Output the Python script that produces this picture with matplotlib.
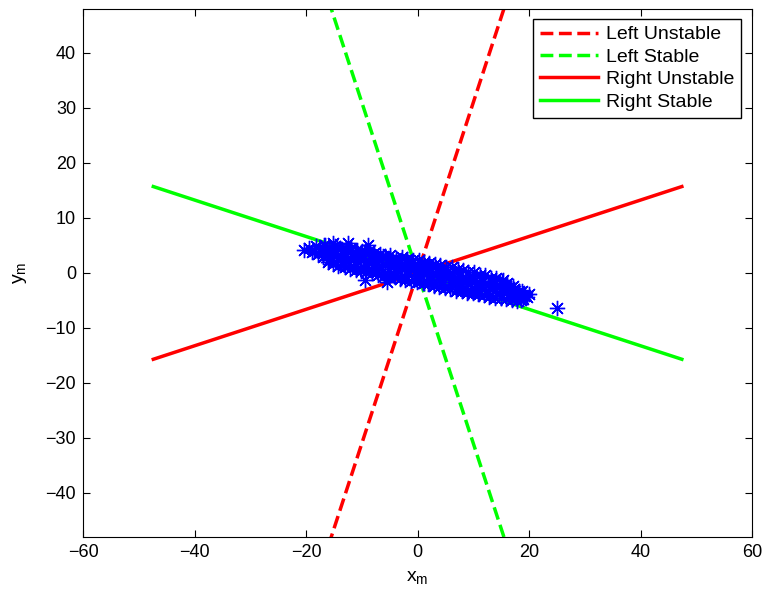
import numpy as np
import matplotlib
matplotlib.use('Agg')
import matplotlib.pyplot as plt

plt.rcParams['font.family'] = ['Liberation Sans', 'DejaVu Sans']
plt.rcParams['mathtext.fontset'] = 'custom'
plt.rcParams['mathtext.rm'] = 'Liberation Sans'

# manifold lines (end points in x_m, y_m)
line_x = [-47.4, 47.4]
left_unstable_x = [-16.0, 16.0]
left_unstable_y = [-49.6, 49.6]
left_stable_x = [-16.0, 16.0]
left_stable_y = [49.6, -49.6]
right_unstable_y = [-15.7, 15.7]
right_stable_y = [15.7, -15.7]

pts_x = [-20.3, -19.5, -19.0, -18.2, -17.8, -17.5, -17.0, -16.6, -16.3,
         -15.8, -15.5, -15.0, -14.6, -14.4, -14.0, -13.5, -13.2, -12.8, -12.4, -12.0,
         -11.6, -11.3, -11.0, -10.6, -10.2, -9.8, -9.5, -9.1, -8.7, -8.3, -8.0,
         -7.7, -7.3, -7.0, -6.6, -6.2, -5.8, -5.5, -5.1, -4.7, -4.3, -4.0,
         -3.6, -3.2, -2.9, -2.5, -2.1, -1.8, -1.4, -1.0, -0.6, -0.3, 0.1,
         0.4, 0.8, 1.2, 1.5, 1.9, 2.3, 2.7, 3.0, 3.4, 3.8,
         4.2, 4.6, 5.0, 5.4, 5.8, 6.2, 6.6, 7.0, 7.4, 7.8,
         8.2, 8.6, 9.0, 9.4, 9.8, 10.2, 10.6, 11.0, 11.4, 11.8,
         12.2, 12.6, 13.0, 13.4, 13.8, 14.2, 14.6, 15.0, 15.4, 15.8,
         16.2, 16.6, 17.0, 17.4, 17.8, 18.2, 18.6, 19.0, 19.6, 20.0,
         -15.2, -12.5, -8.9, -9.4, -5.5, 15.3, 19.3, 25.0,
         # upper edge
         -16.8, -15.9, -14.9, -13.9, -12.9, -11.9, -10.9, -9.9, -8.8, -7.8,
         -6.8, -5.9, -4.9, -3.9, -2.8, -1.9, -0.8, 0.2, 1.1, 2.1,
         3.2, 4.1, 5.1, 6.1, 7.2, 8.1, 9.1, 10.1, 11.2, 12.1,
         13.1, 14.1, 15.2, 16.1, 17.1,
         # lower edge
         -16.1, -15.1, -14.2, -13.1, -12.2, -11.1, -10.1, -9.2, -8.1, -7.1,
         -6.1, -5.2, -4.1, -3.1, -2.2, -1.1, -0.1, 0.9, 1.8, 2.9,
         3.9, 4.9, 5.9, 6.9, 7.9, 8.9, 9.9, 10.9, 11.9, 12.9,
         13.9, 14.9, 15.9, 16.9, 17.9, 18.9,
         # middle
         -18.6, -16.9, -15.3, -13.7, -12.1, -10.4, -8.9, -7.4, -5.9, -4.4,
         -2.8, -1.2, 0.2, 1.7, 3.3, 4.8, 6.4, 8.0, 9.5, 11.1,
         12.6, 14.2, 15.7, 17.3, 18.8]
pts_y = [4.2, 4.6, 3.8, 4.9, 3.4, 4.4, 2.9, 5.0, 3.7,
         2.4, 4.2, 3.3, 1.9, 4.8, 2.8, 3.9, 1.5, 3.1, 2.2, 4.1,
         1.2, 2.8, 3.6, 1.9, 0.8, 2.6, 3.9, 1.4, 2.2, 0.5, 3.1,
         1.7, 0.2, 2.5, 1.1, 3.0, -0.2, 1.9, 0.7, 2.4, -0.5, 1.4,
         0.3, 2.0, -0.9, 1.0, 2.4, -0.2, 0.8, 1.8, -1.3, 0.4, 1.5,
         -0.6, 0.9, -1.8, 0.2, 1.3, -1.1, 0.0, -2.2, 0.8, -0.7,
         -1.6, 0.3, -2.6, -0.9, -0.1, -2.0, -1.2, -3.0, -0.6, -1.9,
         -2.8, -1.1, -3.4, -2.1, -0.9, -3.0, -1.8, -3.8, -2.5, -1.5,
         -3.3, -2.2, -4.1, -2.9, -1.9, -3.7, -2.6, -4.5, -3.3, -2.4,
         -4.0, -3.0, -4.7, -3.6, -4.4, -3.3, -4.9, -4.0, -4.3, -3.9,
         5.5, 5.5, 5.1, -1.3, -1.6, -1.3, -4.0, -6.3,
         # upper edge
         5.1, 4.8, 4.9, 4.6, 4.4, 4.5, 4.1, 4.0, 3.9, 3.6,
         3.4, 3.1, 3.2, 2.8, 2.9, 2.5, 2.4, 2.3, 1.9, 1.8,
         1.6, 1.4, 1.1, 1.0, 0.7, 0.6, 0.2, 0.1, -0.3, -0.4,
         -0.9, -1.0, -1.5, -1.9, -2.3,
         # lower edge
         2.0, 1.7, 1.3, 1.1, 0.8, 0.6, 0.4, 0.2, -0.1, -0.3,
         -0.5, -0.7, -0.8, -1.1, -1.3, -1.4, -1.6, -1.9, -2.1, -2.4,
         -2.5, -2.7, -3.0, -3.2, -3.3, -3.6, -3.7, -3.9, -4.1, -4.3,
         -4.5, -4.6, -4.8, -5.0, -5.1, -4.8,
         # middle
         3.9, 3.6, 3.4, 3.1, 2.8, 2.5, 2.2, 1.9, 1.6, 1.3,
         1.0, 0.7, 0.4, 0.1, -0.2, -0.5, -0.8, -1.1, -1.4, -1.7,
         -2.0, -2.3, -2.6, -2.9, -3.2]

fig = plt.figure(figsize=(7.62, 5.92), dpi=100, facecolor='white')
ax = fig.add_axes([0.109, 0.093, 0.878, 0.892])

ax.plot(left_unstable_x, left_unstable_y, '--', color='#ff0000', lw=2.5, label='Left Unstable')
ax.plot(left_stable_x, left_stable_y, '--', color='#00ff00', lw=2.5, label='Left Stable')
ax.plot(line_x, right_unstable_y, '-', color='#ff0000', lw=2.5, label='Right Unstable')
ax.plot(line_x, right_stable_y, '-', color='#00ff00', lw=2.5, label='Right Stable')
ax.plot(pts_x, pts_y, linestyle='none', marker=(8, 2, 0), color='#0000ff',
        ms=11, mew=1.0, zorder=5)

ax.set_xlim(-60, 60)
ax.set_ylim(-48, 48)
ax.set_xticks(range(-60, 61, 20))
ax.set_yticks(range(-40, 41, 10))
ax.tick_params(direction='in', top=True, right=True, labelsize=13, length=5, pad=5)
ax.set_xticklabels(['\u221260', '\u221240', '\u221220', '0', '20', '40', '60'])
ax.set_yticklabels(['\u221240', '\u221230', '\u221220', '\u221210', '0', '10', '20', '30', '40'])
ax.set_xlabel(r'$\mathregular{x_m}$', fontsize=14, labelpad=6)
ax.set_ylabel(r'$\mathregular{y_m}$', fontsize=14, labelpad=12)

leg = ax.legend(loc='upper right', bbox_to_anchor=(0.9835, 0.981), fontsize=14,
                handlelength=3.0, labelspacing=0.25, borderpad=0.35,
                handletextpad=0.4, fancybox=False, framealpha=1, borderaxespad=0)
leg.get_frame().set_edgecolor('black')

plt.savefig('out.png', dpi=100)
